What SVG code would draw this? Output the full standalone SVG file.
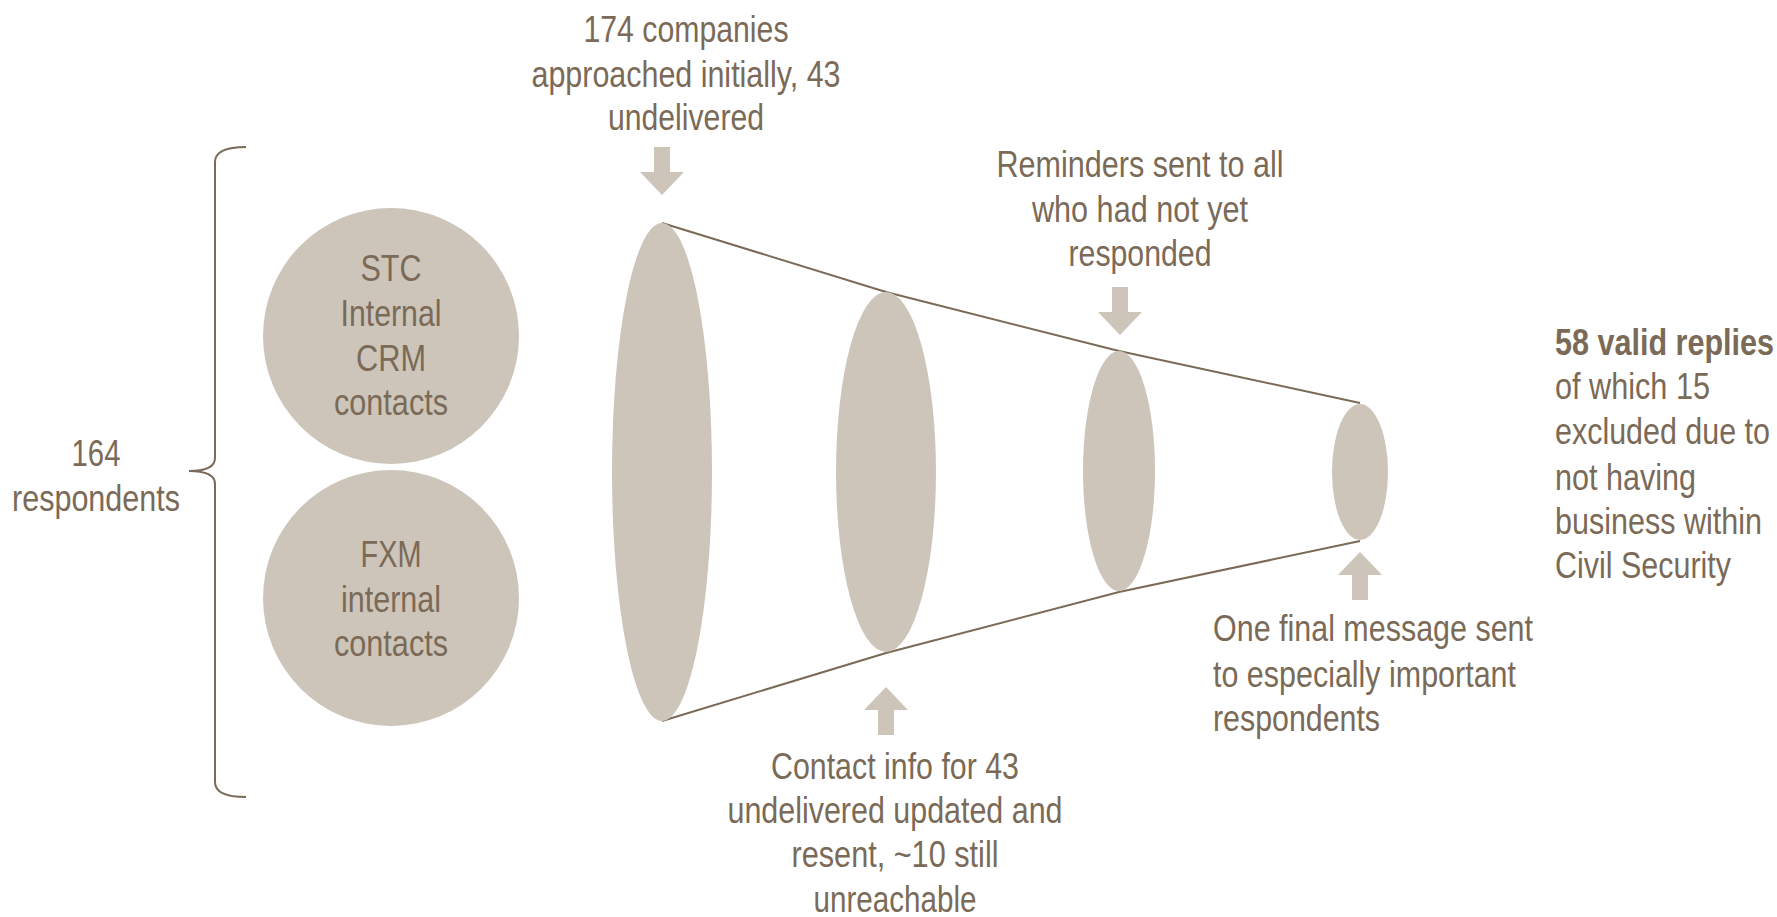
<svg xmlns="http://www.w3.org/2000/svg" width="1777" height="917" viewBox="0 0 1777 917">
  <defs>
    <style>
      .lbl { font-family: "Liberation Sans", Arial, sans-serif; font-size: 36px; fill: #7a6a57; }
      .mid { text-anchor: middle; }
      .bold { font-weight: bold; }
      .shape { fill: #cdc5b9; }
      .edge { fill: none; stroke: #7a6a57; stroke-width: 2; }
      .arrow { fill: #cdc5b9; }
    </style>
    <!-- block arrow pointing down, tip at origin -->
    <path id="arrowDown" d="M-8,-48 L8,-48 L8,-23 L22,-23 L0,0 L-22,-23 L-8,-23 Z"/>
  </defs>
  <rect width="1777" height="917" fill="#ffffff"/>

  <!-- brace grouping the two sources -->
  <g id="brace">
    <path class="edge" d="M246,147 Q215,147 215,162 L215,458 Q215,471 189,471 Q215,471 215,484 L215,782 Q215,797 246,797"/>
    <text class="lbl mid" x="96" y="466" textLength="49" lengthAdjust="spacingAndGlyphs">164</text>
    <text class="lbl mid" x="96" y="511" textLength="168" lengthAdjust="spacingAndGlyphs">respondents</text>
  </g>

  <g id="stc">
    <circle class="shape" cx="391" cy="336" r="128"/>
    <text class="lbl mid" x="391" y="281" textLength="61" lengthAdjust="spacingAndGlyphs">STC</text>
    <text class="lbl mid" x="391" y="326" textLength="101" lengthAdjust="spacingAndGlyphs">Internal</text>
    <text class="lbl mid" x="391" y="371" textLength="70" lengthAdjust="spacingAndGlyphs">CRM</text>
    <text class="lbl mid" x="391" y="415" textLength="114" lengthAdjust="spacingAndGlyphs">contacts</text>
  </g>

  <g id="fxm">
    <circle class="shape" cx="391" cy="598" r="128"/>
    <text class="lbl mid" x="391" y="567" textLength="61" lengthAdjust="spacingAndGlyphs">FXM</text>
    <text class="lbl mid" x="391" y="612" textLength="100" lengthAdjust="spacingAndGlyphs">internal</text>
    <text class="lbl mid" x="391" y="656" textLength="114" lengthAdjust="spacingAndGlyphs">contacts</text>
  </g>

  <!-- funnel outline -->
  <g id="connectors">
    <polyline class="edge" points="662,223 886,292 1119,351 1360,403"/>
    <polyline class="edge" points="662,721 886,653 1119,592 1360,541"/>
  </g>

  <g id="stage1">
    <ellipse class="shape" cx="662" cy="472" rx="50" ry="249"/>
    <use href="#arrowDown" class="arrow" transform="translate(662,195)"/>
    <text class="lbl mid" x="686" y="42" textLength="205" lengthAdjust="spacingAndGlyphs">174 companies</text>
    <text class="lbl mid" x="686" y="87" textLength="309" lengthAdjust="spacingAndGlyphs">approached initially, 43</text>
    <text class="lbl mid" x="686" y="130" textLength="156" lengthAdjust="spacingAndGlyphs">undelivered</text>
  </g>

  <g id="stage2">
    <ellipse class="shape" cx="886" cy="472" rx="50" ry="180"/>
    <use href="#arrowDown" class="arrow" transform="translate(886,687) rotate(180)"/>
    <text class="lbl mid" x="895" y="779" textLength="248" lengthAdjust="spacingAndGlyphs">Contact info for 43</text>
    <text class="lbl mid" x="895" y="823" textLength="335" lengthAdjust="spacingAndGlyphs">undelivered updated and</text>
    <text class="lbl mid" x="895" y="867" textLength="207" lengthAdjust="spacingAndGlyphs">resent, ~10 still</text>
    <text class="lbl mid" x="895" y="912" textLength="163" lengthAdjust="spacingAndGlyphs">unreachable</text>
  </g>

  <g id="stage3">
    <ellipse class="shape" cx="1119" cy="471" rx="36" ry="120"/>
    <use href="#arrowDown" class="arrow" transform="translate(1120,335)"/>
    <text class="lbl mid" x="1140" y="177" textLength="287" lengthAdjust="spacingAndGlyphs">Reminders sent to all</text>
    <text class="lbl mid" x="1140" y="222" textLength="216" lengthAdjust="spacingAndGlyphs">who had not yet</text>
    <text class="lbl mid" x="1140" y="266" textLength="143" lengthAdjust="spacingAndGlyphs">responded</text>
  </g>

  <g id="stage4">
    <ellipse class="shape" cx="1360" cy="472" rx="28" ry="68"/>
    <use href="#arrowDown" class="arrow" transform="translate(1360,552) rotate(180)"/>
    <text class="lbl" x="1213" y="641" textLength="320" lengthAdjust="spacingAndGlyphs">One final message sent</text>
    <text class="lbl" x="1213" y="687" textLength="303" lengthAdjust="spacingAndGlyphs">to especially important</text>
    <text class="lbl" x="1213" y="731" textLength="167" lengthAdjust="spacingAndGlyphs">respondents</text>
  </g>

  <g id="result">
    <text class="lbl bold" x="1555" y="355" textLength="219" lengthAdjust="spacingAndGlyphs">58 valid replies</text>
    <text class="lbl" x="1555" y="399" textLength="155" lengthAdjust="spacingAndGlyphs">of which 15</text>
    <text class="lbl" x="1555" y="444" textLength="215" lengthAdjust="spacingAndGlyphs">excluded due to</text>
    <text class="lbl" x="1555" y="490" textLength="141" lengthAdjust="spacingAndGlyphs">not having</text>
    <text class="lbl" x="1555" y="534" textLength="207" lengthAdjust="spacingAndGlyphs">business within</text>
    <text class="lbl" x="1555" y="578" textLength="176" lengthAdjust="spacingAndGlyphs">Civil Security</text>
  </g>
</svg>
